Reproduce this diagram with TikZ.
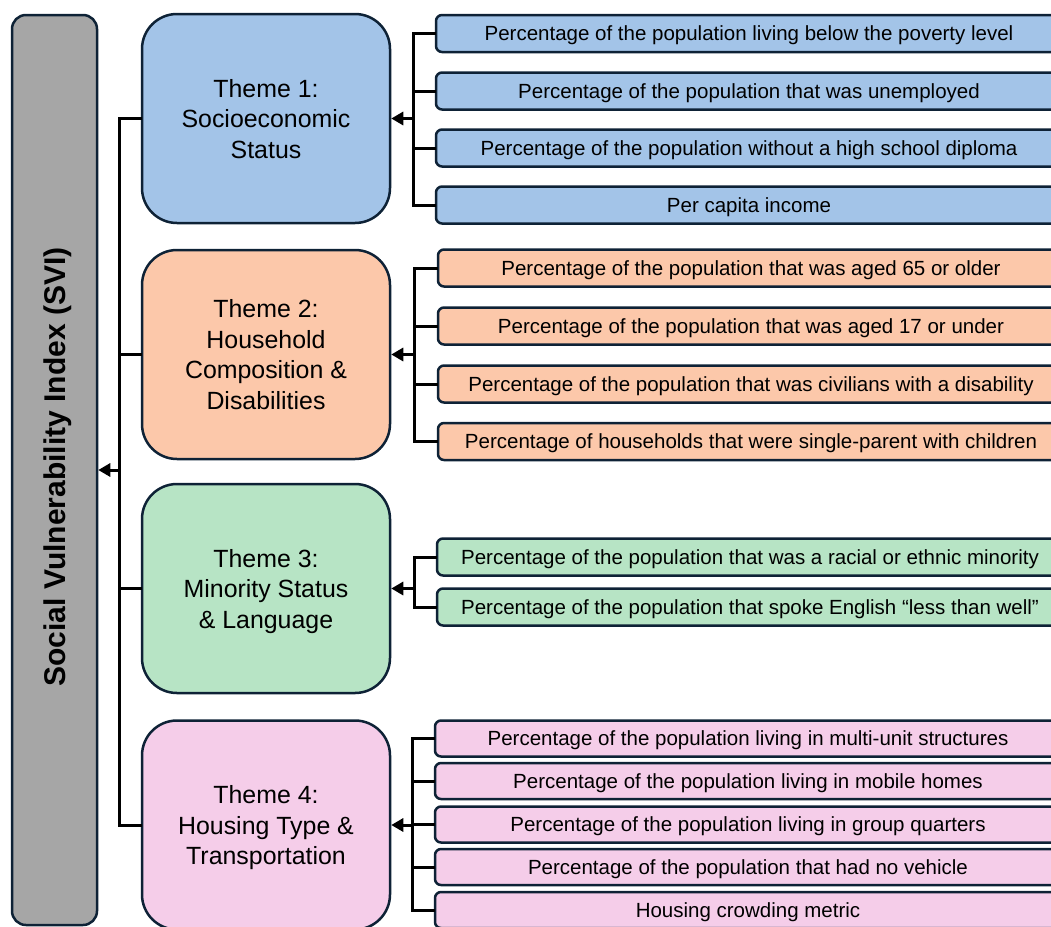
\documentclass[tikz,border=0pt]{standalone}
\usepackage{fontspec}
\setmainfont{Liberation Sans}
\usetikzlibrary{arrows.meta}
\definecolor{bordc}{HTML}{0E2236}
\definecolor{grayc}{HTML}{A6A6A6}
\definecolor{bluec}{HTML}{A3C4E8}
\definecolor{orangec}{HTML}{FCC8AA}
\definecolor{greenc}{HTML}{B7E4C5}
\definecolor{pinkc}{HTML}{F5CDE9}
\tikzset{
  svibox/.style={draw=bordc, line width=2.5pt, fill=grayc, rounded corners=14pt,
    minimum width=85pt, minimum height=910pt, inner sep=0pt},
  theme/.style={draw=bordc, line width=2.5pt, rounded corners=35pt,
    minimum width=248pt, minimum height=209pt, inner sep=0pt, align=center,
    text depth=0pt, font=\fontsize{24.9}{30.5}\selectfont},
  item/.style={draw=bordc, line width=2.5pt, rounded corners=6pt,
    minimum width=626pt, minimum height=37pt, inner sep=0pt, text depth=0pt,
    font=\fontsize{20.5}{24}\selectfont},
  conn/.style={draw=black, line width=3pt, line cap=rect},
  arr/.style={draw=black, line width=3pt, -{Triangle[length=12pt,width=13pt]}},
}
\begin{document}
\begin{tikzpicture}[x=1pt,y=-1pt]
\useasboundingbox (0,0) rectangle (1051,926);
\clip (0,0) rectangle (1051,926);
% left SVI box
\node[svibox] (svi) at (54.5,470) {};
\node[rotate=90, font=\fontsize{30}{36}\selectfont\bfseries] (svit) at (58,467) {Social Vulnerability Index (SVI)};
% theme boxes
\node[theme, fill=bluec] (t1) at (266,118.5) {Theme 1:\\Socioeconomic\\Status};
\node[theme, fill=orangec] (t2) at (266,354.5) {Theme 2:\\Household\\Composition \&\\Disabilities};
\node[theme, fill=greenc] (t3) at (266,588.5) {Theme 3:\\Minority Status\\\& Language};
\node[theme, fill=pinkc] (t4) at (266,825) {Theme 4:\\Housing Type \&\\Transportation};
% group 1 items
\node[item, fill=bluec] (a1) at (749,33.5) {Percentage of the population living below the poverty level};
\node[item, fill=bluec] (a2) at (749,91) {Percentage of the population that was unemployed};
\node[item, fill=bluec] (a3) at (749,148) {Percentage of the population without a high school diploma};
\node[item, fill=bluec] (a4) at (749,205) {Per capita income};
% group 2 items
\node[item, fill=orangec] (b1) at (751,268) {Percentage of the population that was aged 65 or older};
\node[item, fill=orangec] (b2) at (751,326) {Percentage of the population that was aged 17 or under};
\node[item, fill=orangec] (b3) at (751,384) {Percentage of the population that was civilians with a disability};
\node[item, fill=orangec] (b4) at (751,441.5) {Percentage of households that were single-parent with children};
% group 3 items
\node[item, fill=greenc] (c1) at (750,557) {Percentage of the population that was a racial or ethnic minority};
\node[item, fill=greenc] (c2) at (750,607) {Percentage of the population that spoke English “less than well”};
% group 4 items
\node[item, fill=pinkc, minimum height=36pt] (d1) at (748,738.5) {Percentage of the population living in multi-unit structures};
\node[item, fill=pinkc, minimum height=36pt] (d2) at (748,781) {Percentage of the population living in mobile homes};
\node[item, fill=pinkc, minimum height=36pt] (d3) at (748,824.5) {Percentage of the population living in group quarters};
\node[item, fill=pinkc, minimum height=36pt] (d4) at (748,867) {Percentage of the population that had no vehicle};
\node[item, fill=pinkc, minimum height=36pt] (d5) at (748,910) {Housing crowding metric};
% left bus
\coordinate (L) at (119,0);
\draw[conn] (t1.west) -- (L |- t1.west) -- (L |- t4.west) -- (t4.west);
\draw[conn] (t2.west) -- (L |- t2.west);
\draw[conn] (t3.west) -- (L |- t3.west);
\draw[arr] (L |- svi.east) -- (svi.east);
% group 1 bus
\coordinate (B1) at (413,0);
\draw[conn] (a1.west) -- (B1 |- a1.west) -- (B1 |- a4.west) -- (a4.west);
\draw[conn] (a2.west) -- (B1 |- a2.west);
\draw[conn] (a3.west) -- (B1 |- a3.west);
\draw[arr] (B1 |- t1.east) -- (t1.east);
% group 2 bus
\coordinate (B2) at (414,0);
\draw[conn] (b1.west) -- (B2 |- b1.west) -- (B2 |- b4.west) -- (b4.west);
\draw[conn] (b2.west) -- (B2 |- b2.west);
\draw[conn] (b3.west) -- (B2 |- b3.west);
\draw[arr] (B2 |- t2.east) -- (t2.east);
% group 3 bus
\coordinate (B3) at (414,0);
\draw[conn] (c1.west) -- (B3 |- c1.west) -- (B3 |- c2.west) -- (c2.west);
\draw[arr] (B3 |- t3.east) -- (t3.east);
% group 4 bus
\coordinate (B4) at (412,0);
\draw[conn] (d1.west) -- (B4 |- d1.west) -- (B4 |- d5.west) -- (d5.west);
\draw[conn] (d2.west) -- (B4 |- d2.west);
\draw[conn] (d3.west) -- (B4 |- d3.west);
\draw[conn] (d4.west) -- (B4 |- d4.west);
\draw[arr] (B4 |- t4.east) -- (t4.east);
\end{tikzpicture}
\end{document}
